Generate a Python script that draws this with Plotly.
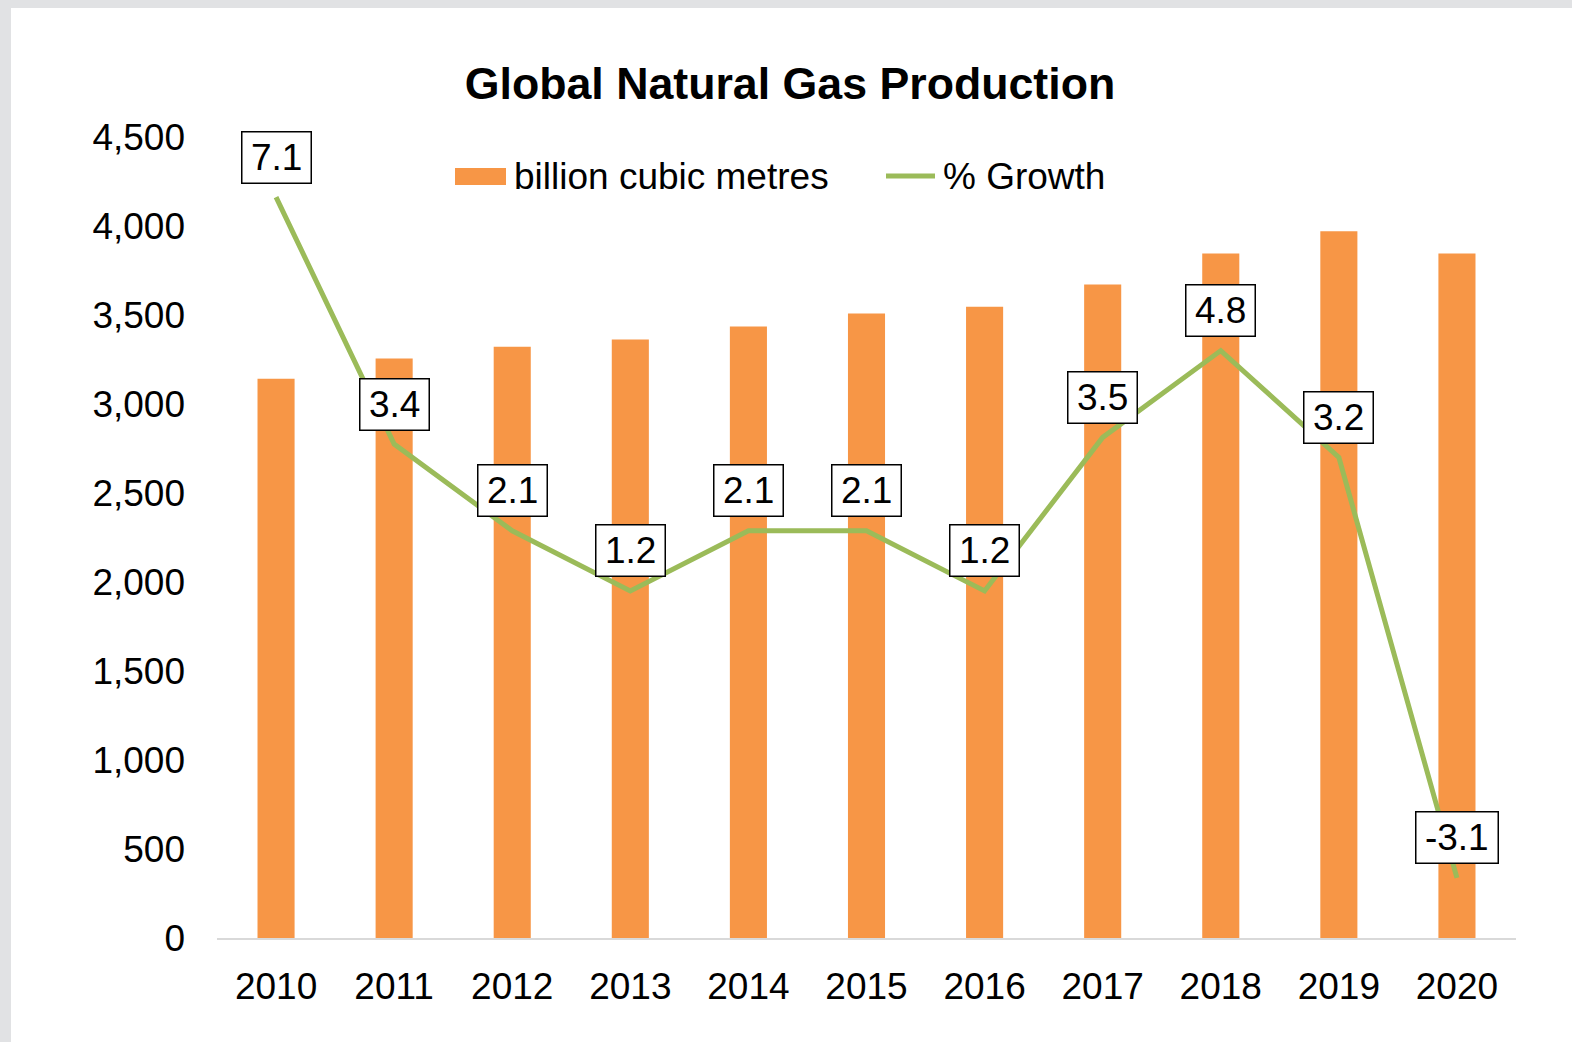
import plotly.graph_objects as go

years = ["2010", "2011", "2012", "2013", "2014", "2015", "2016", "2017", "2018", "2019", "2020"]
production_bcm = [3142, 3255, 3322, 3362, 3435, 3508, 3547, 3671, 3846, 3970, 3846]
growth_pct = [7.1, 3.4, 2.1, 1.2, 2.1, 2.1, 1.2, 3.5, 4.8, 3.2, -3.1]
y_ticks = [0, 500, 1000, 1500, 2000, 2500, 3000, 3500, 4000, 4500]
bar_name = "billion cubic metres"
line_name = "% Growth"

W, H = 1572, 1042
L, R, T, B = 217, 56, 137, 104
pw, ph = W - L - R, H - T - B

FONT = "Liberation Sans, Arial, sans-serif"
ORANGE = "#F79646"
GREEN = "#9BBB59"
FS = 37

fig = go.Figure()
fig.add_trace(go.Bar(
    x=years, y=production_bcm, name=bar_name,
    marker=dict(color=ORANGE, line=dict(width=0)), showlegend=False,
))
fig.add_trace(go.Scatter(
    x=years, y=growth_pct, name=line_name, yaxis="y2", mode="lines",
    line=dict(color=GREEN, width=5), showlegend=False,
))

annotations = []
for i, g in enumerate(growth_pct):
    # category axis: numeric-looking strings are read as indices, so use the index
    annotations.append(dict(
        x=i, y=g, xref="x", yref="y2", text="\u2009" + f"{g:.1f}" + "\u2009",
        showarrow=False, yshift=40, bgcolor="white", bordercolor="black",
        borderwidth=1.5, borderpad=1, height=48,
        font=dict(size=FS, color="black", family=FONT),
    ))


def px_x(p):
    return (p - L) / pw


def px_y(p):
    return 1 - (p - T) / ph


# custom legend (Excel style)
annotations.append(dict(x=px_x(512), y=px_y(176), xref="paper", yref="paper",
                        xanchor="left", yanchor="middle", showarrow=False, text=bar_name,
                        font=dict(size=FS, color="black", family=FONT)))
annotations.append(dict(x=px_x(941), y=px_y(176), xref="paper", yref="paper",
                        xanchor="left", yanchor="middle", showarrow=False, text=line_name,
                        font=dict(size=FS, color="black", family=FONT)))

shapes = [
    dict(type="rect", xref="paper", yref="paper", layer="below",
         x0=px_x(0), x1=px_x(W), y0=px_y(8), y1=px_y(0),
         fillcolor="#E1E2E4", line=dict(width=0)),
    dict(type="rect", xref="paper", yref="paper", layer="below",
         x0=px_x(0), x1=px_x(11), y0=px_y(H), y1=px_y(0),
         fillcolor="#E1E2E4", line=dict(width=0)),
    dict(type="rect", xref="paper", yref="paper",
         x0=px_x(455), x1=px_x(506), y0=px_y(185), y1=px_y(168),
         fillcolor=ORANGE, line=dict(width=0)),
    dict(type="line", xref="paper", yref="paper",
         x0=px_x(886), x1=px_x(935), y0=px_y(176), y1=px_y(176),
         line=dict(color=GREEN, width=5)),
]

fig.update_layout(
    width=W, height=H,
    margin=dict(l=L, r=R, t=T, b=B),
    paper_bgcolor="white", plot_bgcolor="white",
    font=dict(family=FONT, size=FS, color="black"),
    title=dict(text="<b>Global Natural Gas Production</b>", x=790 / W, xanchor="center",
               xref="container", y=1 - 83 / H, yanchor="middle",
               font=dict(size=44.7, color="black", family=FONT)),
    bargap=0.686,
    showlegend=False,
    xaxis=dict(type="category", range=[-0.5, len(years) - 0.5], showline=True,
               linecolor="#D9D9D9", linewidth=2, ticks="",
               showgrid=False, tickfont=dict(size=FS), ticklabelstandoff=15),
    yaxis=dict(range=[0, 4500], tickvals=y_ticks, tickformat=",", showgrid=False,
               zeroline=False, showline=False, ticks="", tickfont=dict(size=FS),
               ticklabelstandoff=31),
    yaxis2=dict(range=[-4, 8], overlaying="y", side="right", visible=False, showgrid=False,
                zeroline=False),
    annotations=annotations,
    shapes=shapes,
)

fig.write_html("out.html")
